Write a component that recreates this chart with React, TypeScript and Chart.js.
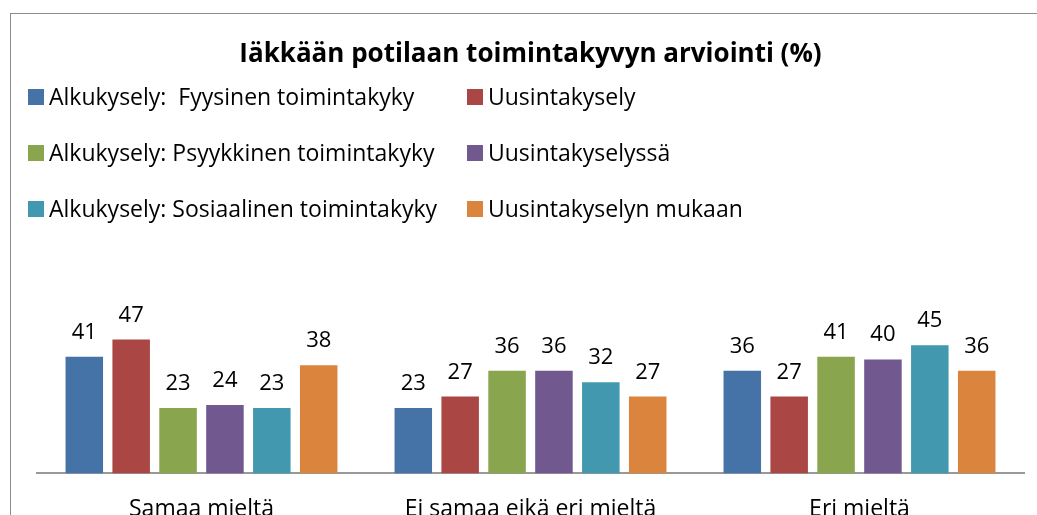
import React, { useEffect, useRef } from "react";
import { Chart, registerables } from "chart.js";

Chart.register(...registerables);

const TITLE = "Iäkkään potilaan toimintakyvyn arviointi (%)";
const categories = ["Samaa mieltä", "Ei samaa eikä eri mieltä", "Eri mieltä"];
const seriesNames = [
  "Alkukysely:  Fyysinen toimintakyky",
  "Uusintakysely",
  "Alkukysely: Psyykkinen toimintakyky",
  "Uusintakyselyssä",
  "Alkukysely: Sosiaalinen toimintakyky",
  "Uusintakyselyn mukaan",
];
const fyysinenAlku = [41, 23, 36];
const uusintakysely = [47, 27, 27];
const psyykkinenAlku = [23, 36, 41];
const uusintakyselyssa = [24, 36, 40];
const sosiaalinenAlku = [23, 32, 45];
const uusintakyselynMukaan = [38, 27, 36];
const seriesValues = [
  fyysinenAlku,
  uusintakysely,
  psyykkinenAlku,
  uusintakyselyssa,
  sosiaalinenAlku,
  uusintakyselynMukaan,
];
const colors = ["#4572A7", "#AA4643", "#89A54E", "#71588F", "#4198AF", "#DB843D"];

const FONT = "'Open Sans', 'Noto Sans', sans-serif";

const labelPlugin = {
  id: "valueLabels",
  afterDatasetsDraw(chart: any) {
    const ctx = chart.ctx;
    ctx.save();
    ctx.font = `22px ${FONT}`;
    ctx.fillStyle = "#000";
    ctx.textAlign = "center";
    ctx.textBaseline = "alphabetic";
    chart.data.datasets.forEach((ds: any, i: number) => {
      const meta = chart.getDatasetMeta(i);
      meta.data.forEach((bar: any, j: number) => {
        ctx.fillText(String(ds.data[j]), bar.x, bar.y - 18);
      });
    });
    ctx.restore();
  },
};

const headerPlugin = {
  id: "headerLegend",
  afterDraw(chart: any) {
    const ctx = chart.ctx;
    const area = chart.chartArea;
    ctx.save();
    ctx.fillStyle = "#000";
    ctx.font = `bold 26px ${FONT}`;
    ctx.textAlign = "center";
    ctx.textBaseline = "middle";
    ctx.fillText(TITLE, (area.left + area.right) / 2, 41);

    ctx.font = `23px ${FONT}`;
    ctx.textAlign = "left";
    const colX = [17, 456];
    const rowY = [83, 139, 195];
    chart.data.datasets.forEach((ds: any, i: number) => {
      const x = colX[i % 2];
      const y = rowY[Math.floor(i / 2)];
      ctx.fillStyle = ds.backgroundColor;
      ctx.fillRect(x, y - 8, 16, 16);
      ctx.fillStyle = "#000";
      ctx.fillText(ds.label, x + 21, y + 1);
    });
    ctx.restore();
  },
};

export default function App() {
  const ref = useRef<HTMLCanvasElement>(null);
  useEffect(() => {
    if (!ref.current) return;
    const chart = new Chart(ref.current, {
      type: "bar",
      data: {
        labels: categories,
        datasets: seriesNames.map((name, i) => ({
          label: name,
          data: seriesValues[i],
          backgroundColor: colors[i],
          borderWidth: 0,
          categoryPercentage: 0.855,
          barPercentage: 0.8,
        })),
      },
      options: {
        responsive: false,
        animation: false,
        layout: { padding: { left: 26, right: 37, top: 317, bottom: 9 } },
        plugins: {
          legend: { display: false },
          title: { display: false },
          tooltip: { enabled: false },
        },
        scales: {
          x: {
            grid: { display: false, drawTicks: false },
            border: { display: true, color: "#999999", width: 2 },
            ticks: { color: "#000", font: { family: FONT, size: 23 }, padding: 22 },
          },
          y: { display: false, min: 0, max: 50 },
        },
      },
      plugins: [labelPlugin, headerPlugin],
    });
    return () => chart.destroy();
  }, []);
  return (
    <div style={{ position: "fixed", inset: 0, overflow: "hidden", background: "#fff" }}>
      <div
        style={{
          position: "absolute",
          left: 10,
          top: 13,
          width: 1050,
          height: 540,
          border: "1px solid #8c8c8c",
        }}
      >
        <canvas ref={ref} width={1050} height={540} style={{ display: "block" }} />
      </div>
    </div>
  );
}
